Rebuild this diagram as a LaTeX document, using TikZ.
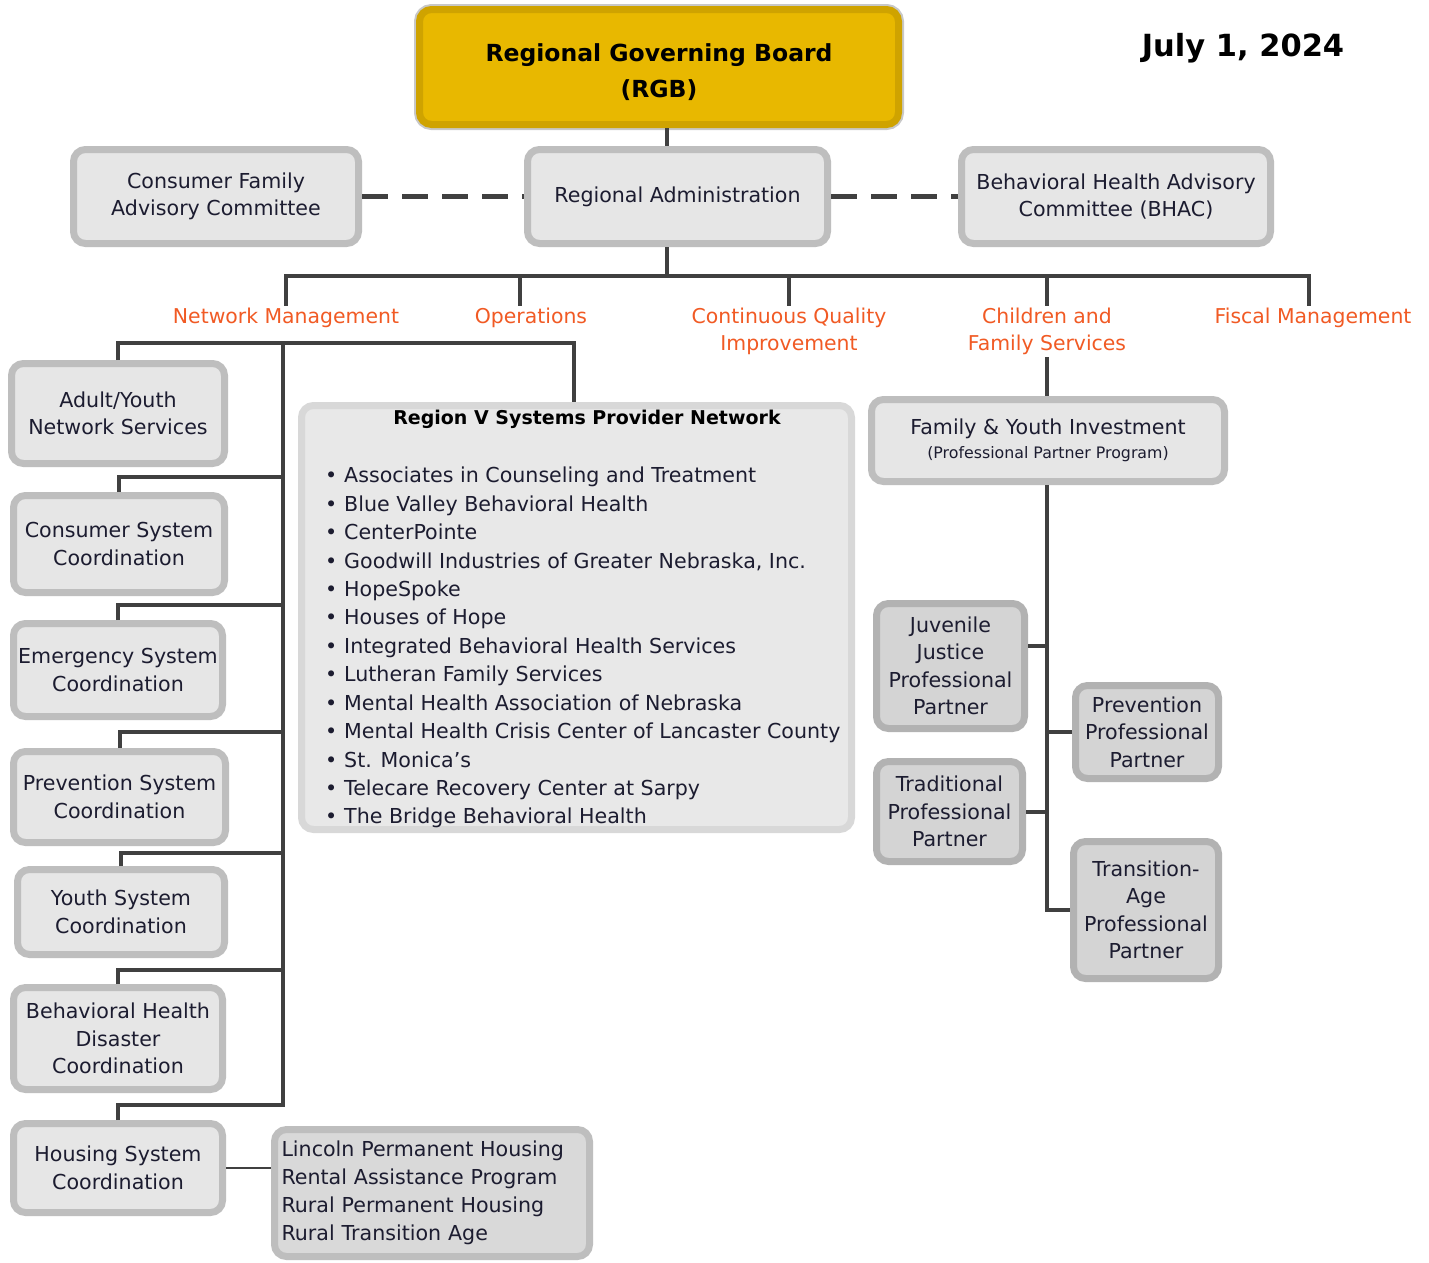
\documentclass[tikz,border=0pt]{standalone}
\usepackage{fontspec}
\setmainfont{DejaVu Sans}
\usetikzlibrary{calc}
\definecolor{boxfill}{HTML}{E6E6E6}
\definecolor{boxline}{HTML}{BEBEBE}
\definecolor{darkfill}{HTML}{D4D4D4}
\definecolor{darkline}{HTML}{B2B2B2}
\definecolor{rvline}{HTML}{D8D8D8}
\definecolor{rvfill}{HTML}{E8E8E8}
\definecolor{goldfill}{HTML}{E8B800}
\definecolor{goldline}{HTML}{CFA300}
\definecolor{halo}{HTML}{C8C8C8}
\definecolor{conncol}{HTML}{404040}
\definecolor{txt}{HTML}{1C1C30}
\definecolor{lbl}{HTML}{F15A24}
\tikzset{
  box/.style={draw=boxline, line width=7pt, fill=boxfill, rounded corners=12pt,
    inner sep=0pt, align=center, text=txt, font=\fontsize{20.6}{27.5}\selectfont},
  darkbox/.style={box, draw=darkline, fill=darkfill},
  conn/.style={draw=conncol, line width=4pt},
  dashconn/.style={conn, line width=5pt, dash pattern=on 26pt off 14pt},
  lab/.style={text=lbl, font=\fontsize{20.4}{27}\selectfont, align=center, inner sep=2pt},
}
\begin{document}
\begin{tikzpicture}[x=1pt,y=-1pt]
\useasboundingbox[fill=white] (0,0) rectangle (1429,1262);
% top
\node[box, draw=goldline, fill=goldfill, text=black, preaction={draw=halo, line width=11pt},
  minimum width=479pt, minimum height=115pt] (rgb) at (659,67) {};
\node[text=black, align=center, font=\fontsize{23.5}{36}\selectfont\bfseries] (rgbt) at (659,72) {Regional Governing Board\\(RGB)};
\node[font=\fontsize{30.5}{36}\selectfont\bfseries, text=black] (date) at (1243,48) {July 1, 2024};
\node[box, minimum width=285pt, minimum height=94pt] (cfac) at (216,196.5) {Consumer Family\\Advisory Committee};
\node[box, minimum width=300pt, minimum height=94pt] (ra) at (677.5,196.5) {Regional Administration};
\node[box, minimum width=309pt, minimum height=94pt] (bhac) at (1116,196.5) {Behavioral Health Advisory\\Committee (BHAC)};
% labels
\node[lab] (nm) at (286,318) {Network Management};
\node[lab] (op) at (531,318) {Operations};
\node[lab] (cqi) at (789,331.5) {Continuous Quality\\Improvement};
\node[lab] (cf) at (1047,331.5) {Children and\\Family Services};
\node[lab] (fm) at (1313,318) {Fiscal Management};
% left column
\node[box, minimum width=213pt, minimum height=100pt] (ay) at (118,413.5) {Adult/Youth\\Network Services};
\node[box, minimum width=211pt, minimum height=97pt] (cs) at (119,544) {Consumer System\\Coordination};
\node[box, minimum width=209pt, minimum height=93pt] (es) at (118,670) {Emergency System\\Coordination};
\node[box, minimum width=212pt, minimum height=91pt] (ps) at (119.5,797) {Prevention System\\Coordination};
\node[box, minimum width=207pt, minimum height=85pt] (ys) at (121,912) {Youth System\\Coordination};
\node[box, minimum width=209pt, minimum height=102pt] (bhd) at (118,1038.5) {Behavioral Health\\Disaster\\Coordination};
\node[box, minimum width=209pt, minimum height=89pt] (hs) at (118,1168) {Housing System\\Coordination};
\node[box, fill=darkfill!70!boxfill, minimum width=315pt, minimum height=127pt, text width=301pt, align=left,
  font=\fontsize{20.6}{28}\selectfont] (hsub) at (432,1193)
  {Lincoln Permanent Housing\\Rental Assistance Program\\Rural Permanent Housing\\Rural Transition Age};
% Region V
\node[box, draw=rvline, fill=rvfill, minimum width=550pt, minimum height=424pt] (rv) at (576.5,617.5) {};
\node[text=black, font=\fontsize{19}{24}\selectfont\bfseries] (rvt) at (587,419) {Region V Systems Provider Network};
\node[anchor=north west, inner sep=0pt, align=left, text=txt, font=\fontsize{20.6}{28.42}\selectfont] (rvl) at (325,467) {%
\makebox[19pt][l]{•}Associates in Counseling and Treatment\\
\makebox[19pt][l]{•}Blue Valley Behavioral Health\\
\makebox[19pt][l]{•}CenterPointe\\
\makebox[19pt][l]{•}Goodwill Industries of Greater Nebraska, Inc.\\
\makebox[19pt][l]{•}HopeSpoke\\
\makebox[19pt][l]{•}Houses of Hope\\
\makebox[19pt][l]{•}Integrated Behavioral Health Services\\
\makebox[19pt][l]{•}Lutheran Family Services\\
\makebox[19pt][l]{•}Mental Health Association of Nebraska\\
\makebox[19pt][l]{•}Mental Health Crisis Center of Lancaster County\\
\makebox[19pt][l]{•}St. Monica’s\\
\makebox[19pt][l]{•}Telecare Recovery Center at Sarpy\\
\makebox[19pt][l]{•}The Bridge Behavioral Health};
% right column
\node[box, minimum width=353pt, minimum height=82pt] (fyi) at (1048,440.5)
  {Family \& Youth Investment\\[-4pt]{\fontsize{15.8}{20}\selectfont (Professional Partner Program)}};
\node[darkbox, minimum width=148pt, minimum height=125pt] (jj) at (950.5,666) {Juvenile\\Justice\\Professional\\Partner};
\node[darkbox, minimum width=146pt, minimum height=100pt] (tp) at (949.5,811.5) {Traditional\\Professional\\Partner};
\node[darkbox, minimum width=143pt, minimum height=93pt] (pp) at (1147,732) {Prevention\\Professional\\Partner};
\node[darkbox, minimum width=145pt, minimum height=137pt] (ta) at (1146,910) {Transition-\\Age\\Professional\\Partner};
% connectors
\coordinate (bar) at (667,276);
\coordinate (nmhub) at (283,343);
\draw[conn] ([xshift=8pt]rgb.south) -- ([xshift=-10.5pt]ra.north);
\draw[dashconn] (cfac.east) -- (ra.west);
\draw[dashconn] (ra.east) -- (bhac.west);
\draw[conn] ([xshift=-10.5pt]ra.south) -- (bar);
\draw[conn] (nm.north) |- (bar) -| ([xshift=-4pt]fm.north);
\draw[conn] ([xshift=-11pt]op.north) -- ([xshift=-11pt]op.north |- bar);
\draw[conn] (cqi.north) -- (cqi.north |- bar);
\draw[conn] (cf.north) -- (cf.north |- bar);
\draw[conn] (ay.north) |- (nmhub) -| ([xshift=-2.5pt]rv.north);
\draw[conn] (cs.north) -- ++(0,-15) -| (nmhub);
\draw[conn] (es.north) -- ++(0,-15) -| (nmhub);
\draw[conn] (ps.north) -- ++(0,-16) -| (nmhub);
\draw[conn] (ys.north) -- ++(0,-13) -| (nmhub);
\draw[conn] (bhd.north) -- ++(0,-14) -| (nmhub);
\draw[conn] (hs.north) -- ++(0,-15) -| (nmhub);
\draw[conn, line width=2pt] (hs.east) -- (hs.east -| hsub.west);
\draw[conn] (cf.south) -- (fyi.north -| cf.south);
\draw[conn] ([xshift=-1pt]fyi.south) |- (ta.west);
\draw[conn] ([yshift=20pt]jj.east) -- ([yshift=20pt]jj.east -| fyi.south);
\draw[conn] (tp.east) -- (tp.east -| fyi.south);
\draw[conn] (pp.west) -- (pp.west -| fyi.south);
\end{tikzpicture}
\end{document}
